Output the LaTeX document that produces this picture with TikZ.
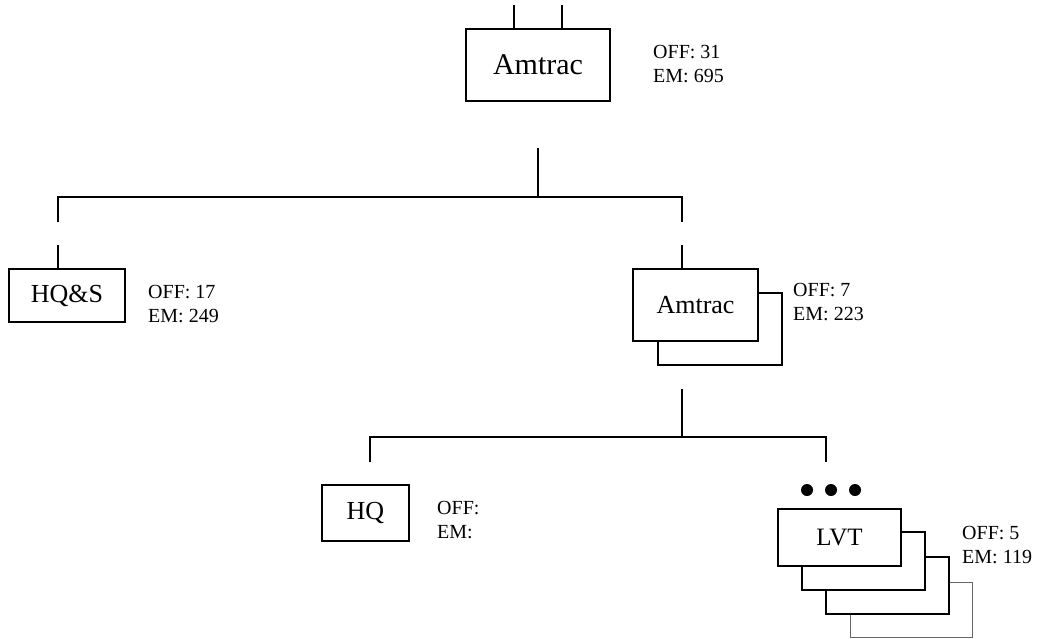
\documentclass[tikz,border=0pt]{standalone}
\usepackage{fontspec}
\setmainfont{Liberation Serif}
\begin{document}
\begin{tikzpicture}[x=1pt,y=-1pt,
  ln/.style={line width=1.7pt},
  box/.style={draw,line width=1.7pt,fill=white,rectangle,inner sep=0pt},
  bigtxt/.style={font=\fontsize{26}{30}\selectfont},
  info/.style={anchor=west,align=left,inner sep=0pt,font=\fontsize{20}{24}\selectfont},
  dot/.style={circle,fill=black,inner sep=0pt,minimum size=12pt}]
\useasboundingbox (0,0) rectangle (1042,638);

% top unit
\node[box,minimum width=144pt,minimum height=72pt,font=\fontsize{30}{34}\selectfont] (top) at (538,65) {Amtrac};
\node[info] (topinfo) at (653,64) {OFF: 31\\EM: 695};
\coordinate (tu1) at (514,5);
\coordinate (tu2) at (562,5);
\draw[ln] (tu1) -- (tu1 |- top.north);
\draw[ln] (tu2) -- (tu2 |- top.north);

% level 1 connectors
\coordinate (j1) at (538,148);
\coordinate (b1) at (538,197);
\coordinate (l1) at (58,197);
\coordinate (r1) at (682,197);
\coordinate (l1e) at (58,222);
\coordinate (r1e) at (682,222);
\coordinate (l1s) at (58,245);
\coordinate (r1s) at (682,245);
\draw[ln] (j1) -- (b1);
\draw[ln] (l1e) -- (l1) -- (r1) -- (r1e);

% HQ&S
\node[box,minimum width=116pt,minimum height=53pt,bigtxt] (hqs) at (67,295.5) {HQ\&S};
\node[info] (hqsinfo) at (148,304) {OFF: 17\\EM: 249};
\draw[ln] (l1s) -- (l1s |- hqs.north);

% Amtrac (stacked)
\draw[ln,fill=white] (658,293) rectangle (782,365);
\node[box,minimum width=125pt,minimum height=72pt,bigtxt] (am2) at (695.5,305) {Amtrac};
\node[info] (am2info) at (793,302) {OFF: 7\\EM: 223};
\draw[ln] (r1s) -- (r1s |- am2.north);

% level 2 connectors
\coordinate (j2) at (682,389);
\coordinate (b2) at (682,437);
\coordinate (l2) at (370,437);
\coordinate (r2) at (826,437);
\coordinate (l2e) at (370,462);
\coordinate (r2e) at (826,462);
\draw[ln] (j2) -- (b2);
\draw[ln] (l2e) -- (l2) -- (r2) -- (r2e);

% HQ
\node[box,minimum width=87pt,minimum height=56pt,bigtxt] (hq) at (365.5,513) {HQ};
\node[info] (hqinfo) at (437,520) {OFF:\\EM:};

% dots
\node[dot] (d1) at (807,490) {};
\node[dot] (d2) at (831,490) {};
\node[dot] (d3) at (855,490) {};

% LVT (stacked)
\draw[line width=1pt,draw=black!60,fill=white] (850,582) rectangle (972,637);
\draw[ln,fill=white] (826,557) rectangle (949,614);
\draw[ln,fill=white] (802,532) rectangle (925,590);
\node[box,minimum width=123pt,minimum height=57pt,font=\fontsize{25}{29}\selectfont] (lvt) at (839.5,537.5) {LVT};
\node[info] (lvtinfo) at (962,545) {OFF: 5\\EM: 119};
\end{tikzpicture}
\end{document}
